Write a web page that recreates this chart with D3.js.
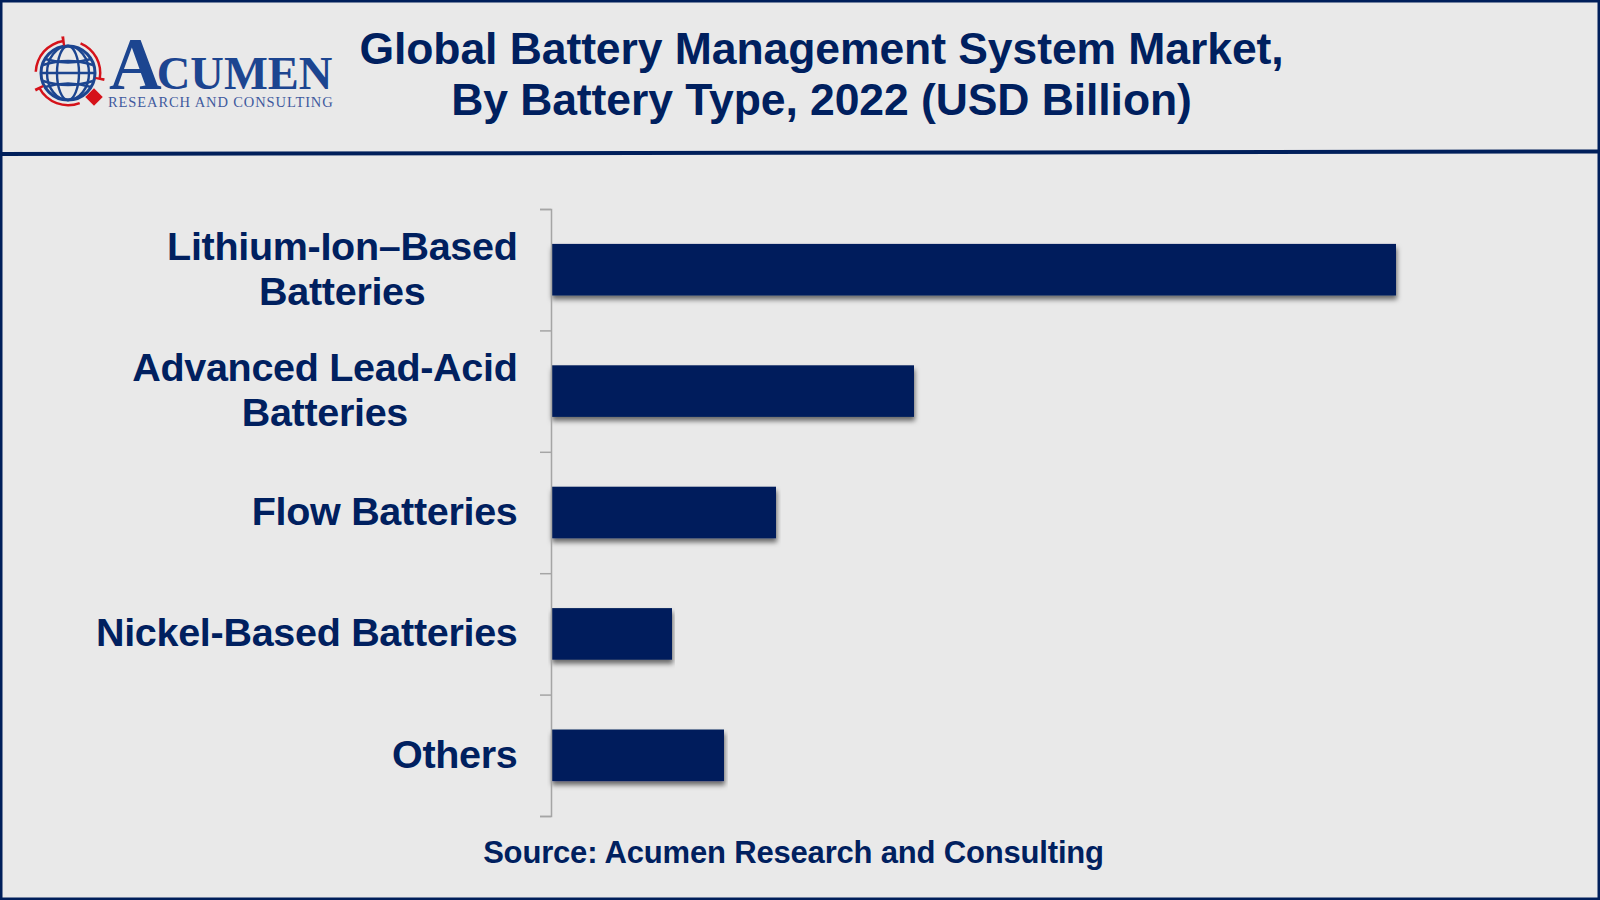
<!DOCTYPE html>
<html>
  <head>
    <meta charset="utf-8" />
    <title>Global Battery Management System Market</title>
    <script src="https://d3js.org/d3.v7.min.js"></script>
    <style>
        body{
            margin:0;
            background:#e9e9e9;
        }
        svg{
            display:block;
        }
        text{
            font-family:"Liberation Sans", Arial, sans-serif;
            font-weight:bold;
            fill:#00205f;
        }
    </style>
  </head>
  <body>
    <svg id="chart">
        <defs>
            <filter id="barShadow" x="-2%" y="-10%" width="104%" height="140%">
                <feDropShadow dx="1" dy="4" stdDeviation="2.5" flood-color="#000" flood-opacity="0.55"/>
            </filter>
        </defs>
        <g id="frame"></g>
        <g id="logo"></g>
        <g id="title"></g>
        <g id="bars"></g>
        <g id="y"></g>
        <g id="labels"></g>
    </svg>

    <script>
      // values, the original has no value axis
      var categories = ["Lithium-Ion–Based Batteries", "Advanced Lead-Acid Batteries", "Flow Batteries", "Nickel-Based Batteries", "Others"];
      var values = [8.45, 3.63, 2.25, 1.21, 1.73];
      var labelLines = [["Lithium-Ion–Based", "Batteries"], ["Advanced Lead-Acid", "Batteries"], ["Flow Batteries"], ["Nickel-Based Batteries"], ["Others"]];
      var titleLines = ["Global Battery Management System Market,", "By Battery Type, 2022 (USD Billion)"];
      var source = "Source: Acumen Research and Consulting";

      var width = 1600;
      var height = 900;
      var navy = "#001f5b";
      var margin = {top: 209, right: 204, bottom: 84, left: 551};
      var chartHeight = height - margin.top - margin.bottom;

      var svg = d3.select("#chart").attr("width", width).attr("height", height);

      // frame and divider
      var frame = svg.select("#frame");
      frame.append("rect").attr("width", width).attr("height", height).attr("fill", "#e9e9e9");
      frame.append("rect").attr("x", 1.25).attr("y", 1.25).attr("width", width - 2.5).attr("height", height - 2.5)
        .attr("fill", "none").attr("stroke", navy).attr("stroke-width", 2.5);
      frame.append("path").attr("d", "M0 154L1600 151.5").attr("stroke", navy).attr("stroke-width", 4);

      var x = d3.scaleLinear().domain([0, d3.max(values)]).range([margin.left, width - margin.right]);
      var y = d3.scaleBand().domain(categories).range([margin.top, margin.top + chartHeight]).paddingInner(0.575).paddingOuter(0.2875);
      var edges = d3.scaleLinear().domain([0, categories.length]).range([margin.top, margin.top + chartHeight]);

      svg.select("#bars").selectAll("rect")
        .data(values)
        .enter().append("rect")
        .attr("x", x(0))
        .attr("y", function(d, i) { return y(categories[i]); })
        .attr("width", function(d) { return x(d) - x(0); })
        .attr("height", y.bandwidth())
        .attr("fill", navy)
        .attr("filter", "url(#barShadow)");

      // ticks sit between the bands, not on them
      var yAxis = d3.axisLeft(edges).ticks(categories.length).tickFormat("").tickSize(11);
      svg.select("#y").attr("transform", "translate(" + margin.left + ", 0)").call(yAxis);
      svg.select("#y").selectAll("path, line").attr("stroke", "#a5a5a5").attr("stroke-width", 1.5);

      svg.select("#labels").selectAll("text")
        .data(labelLines)
        .enter().append("text")
        .attr("font-size", 39.5)
        .attr("letter-spacing", -0.3)
        .attr("text-anchor", "middle")
        .each(function(d, i) {
          var cy = y(categories[i]) + y.bandwidth() / 2;
          var el = d3.select(this);
          d.forEach(function(line, j) {
            el.append("tspan")
              .attr("y", cy + 12.5 + (j - (d.length - 1) / 2) * 45)
              .text(line);
          });
          // lines are centred on each other, the block is right aligned
          var longest = d3.max(el.selectAll("tspan").nodes(), function(n) { return n.getComputedTextLength(); });
          el.selectAll("tspan").attr("x", 517.5 - longest / 2);
        });

      svg.select("#title").selectAll("text")
        .data(titleLines)
        .enter().append("text")
        .attr("x", 821.5)
        .attr("y", function(d, i) { return 64 + i * 51; })
        .attr("text-anchor", "middle")
        .attr("font-size", 44.5)
        .attr("letter-spacing", -0.08)
        .text(function(d) { return d; });

      svg.append("text").attr("x", 793.5).attr("y", 863).attr("text-anchor", "middle")
        .attr("font-size", 31).attr("letter-spacing", -0.18).text(source);

      // logo
      var logo = svg.select("#logo");
      var logoBlue = "#1c4590";
      var logoRed = "#d5121a";
      var gx = 68, gy = 73, gr = 27;
      var globe = logo.append("g").attr("fill", "none").attr("stroke", logoBlue).attr("stroke-width", 2.4);
      globe.append("circle").attr("cx", gx).attr("cy", gy).attr("r", gr).attr("stroke-width", 3);
      [11, 21].forEach(function(rx) {
        globe.append("ellipse").attr("cx", gx).attr("cy", gy).attr("rx", rx).attr("ry", gr);
      });
      globe.append("path").attr("d", "M" + (gx - gr) + " " + gy + "H" + (gx + gr));
      [-1, 1].forEach(function(s) {
        globe.append("path").attr("d", "M" + (gx - 23) + " " + (gy + s * 14) + "Q" + gx + " " + (gy + s * 7) + " " + (gx + 23) + " " + (gy + s * 14));
        globe.append("path").attr("d", "M" + (gx - 25) + " " + (gy + s * 8) + "Q" + gx + " " + (gy + s * 16) + " " + (gx + 25) + " " + (gy + s * 8));
      });
      var ring = d3.arc().innerRadius(31).outerRadius(33.5);
      var arrow = d3.arc().innerRadius(28).outerRadius(37);
      [[4.75, 6.14, 6.14], [0.4, 1.75, 1.75], [2.77, 4.23, 4.23]].forEach(function(a) {
        logo.append("path").attr("transform", "translate(" + gx + "," + gy + ")")
          .attr("d", ring({startAngle: a[0], endAngle: a[1]}))
          .attr("fill", logoRed);
        logo.append("path").attr("transform", "translate(" + gx + "," + gy + ")")
          .attr("d", arrow({startAngle: a[2] - 0.04, endAngle: a[2] + 0.04}))
          .attr("fill", logoRed);
      });
      logo.append("rect").attr("x", -6.2).attr("y", -6.2).attr("width", 12.4).attr("height", 12.4)
        .attr("transform", "translate(94,97) rotate(45)").attr("fill", logoRed);
      var wordmark = logo.append("text").attr("x", 109).attr("y", 89)
        .style("font-family", '"Liberation Serif", serif').style("fill", logoBlue).attr("font-size", 73);
      wordmark.append("tspan").text("A");
      wordmark.append("tspan").attr("font-size", 46.5).attr("dx", -5).text("CUMEN");
      logo.append("text").attr("x", 108).attr("y", 107)
        .style("font-family", '"Liberation Serif", serif').style("font-weight", "normal").style("fill", "#3f5a9e")
        .attr("font-size", 14.5).attr("letter-spacing", 0.9).text("RESEARCH AND CONSULTING");
    </script>
  </body>
</html>
